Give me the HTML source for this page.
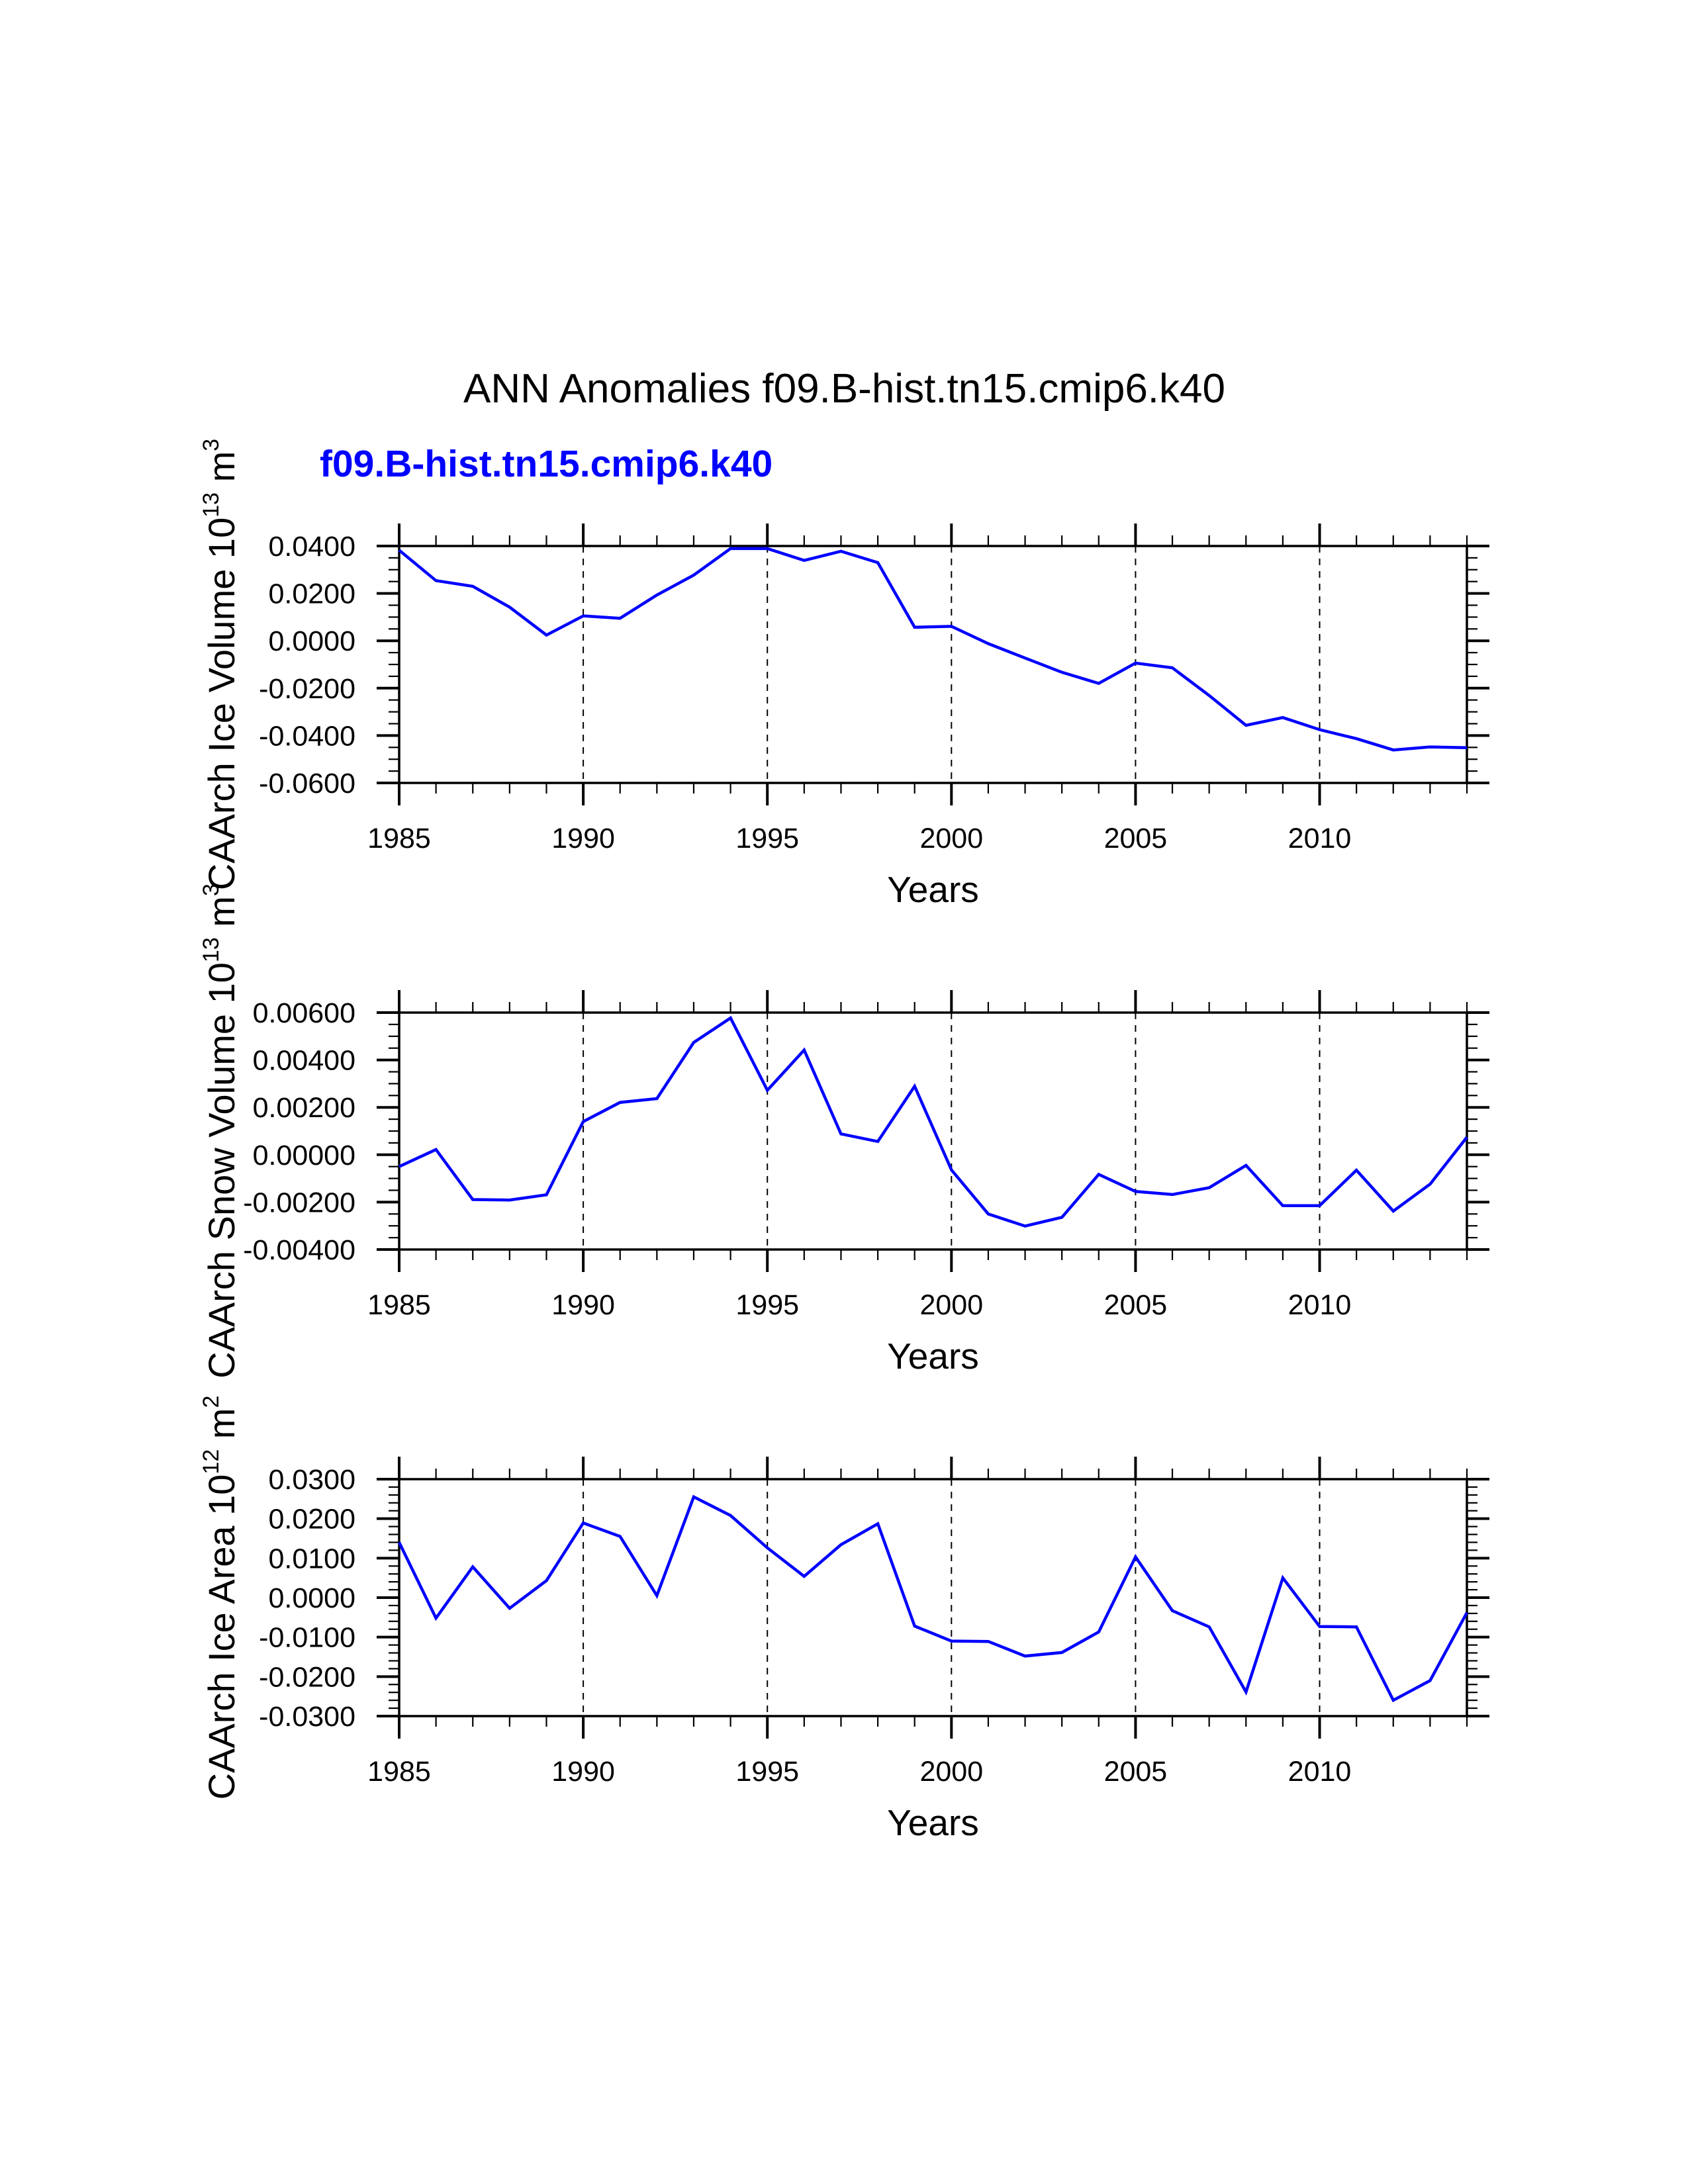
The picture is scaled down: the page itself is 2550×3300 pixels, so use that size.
<!DOCTYPE html>
<html><head><meta charset="utf-8"><style>
html,body{margin:0;padding:0;background:#fff;}
svg{display:block;font-family:"Liberation Sans",Arial,sans-serif;}
</style></head><body>
<svg id="chart" width="2550" height="3300" viewBox="0 0 2550 3300" xmlns="http://www.w3.org/2000/svg">
<rect width="2550" height="3300" fill="#fff"/>
<text x="700" y="608" font-size="62" fill="#000">ANN Anomalies f09.B-hist.tn15.cmip6.k40</text>
<text x="483" y="720" font-size="57" font-weight="bold" fill="#0000ff">f09.B-hist.tn15.cmip6.k40</text>
<g id="plots"></g>
</svg>
<script>
const years = [1985,1986,1987,1988,1989,1990,1991,1992,1993,1994,1995,1996,1997,1998,1999,2000,2001,2002,2003,2004,2005,2006,2007,2008,2009,2010,2011,2012,2013,2014];
const iceVolume = [0.0382,0.0254,0.0230,0.0142,0.0024,0.0105,0.0095,0.0193,0.0277,0.0389,0.0389,0.0339,0.0378,0.0330,0.0057,0.0061,-0.0012,-0.0073,-0.0133,-0.0180,-0.0094,-0.0114,-0.0231,-0.0357,-0.0324,-0.0375,-0.0413,-0.0461,-0.0448,-0.0451];
const snowVolume = [-0.00050,0.00022,-0.00189,-0.00191,-0.00169,0.00140,0.00221,0.00237,0.00474,0.00577,0.00272,0.00442,0.00088,0.00056,0.00289,-0.00064,-0.00250,-0.00301,-0.00264,-0.00083,-0.00155,-0.00168,-0.00139,-0.00045,-0.00215,-0.00215,-0.00065,-0.00238,-0.00124,0.00074];
const iceArea = [0.0140,-0.0052,0.0078,-0.0027,0.0043,0.0189,0.0155,0.0005,0.0255,0.0208,0.0126,0.0054,0.0134,0.0187,-0.0072,-0.0110,-0.0111,-0.0148,-0.0139,-0.0087,0.0103,-0.0033,-0.0074,-0.0239,0.0050,-0.0073,-0.0074,-0.0260,-0.0210,-0.0038];
const xTickLabels = [1985,1990,1995,2000,2005,2010];
const iceVolTicks = ["0.0400","0.0200","0.0000","-0.0200","-0.0400","-0.0600"];
const snowVolTicks = ["0.00600","0.00400","0.00200","0.00000","-0.00200","-0.00400"];
const iceAreaTicks = ["0.0300","0.0200","0.0100","0.0000","-0.0100","-0.0200","-0.0300"];

const NS="http://www.w3.org/2000/svg";
const root=document.getElementById('plots');
const X0=603, X1=2216, PH=358;
function xs(yr){return X0+(yr-years[0])/(years[years.length-1]-years[0])*(X1-X0);}
function mk(tag,attrs,parent){const e=document.createElementNS(NS,tag);for(const k in attrs)e.setAttribute(k,attrs[k]);(parent||root).appendChild(e);return e;}

const panels=[
 {top:825,vals:iceVolume,ticks:iceVolTicks,max:0.04,min:-0.06,major:0.02,minor:0.005,title:["CAArch Ice Volume 10","13"," m","3"],name:"ice-volume"},
 {top:1530,vals:snowVolume,ticks:snowVolTicks,max:0.006,min:-0.004,major:0.002,minor:0.0005,title:["CAArch Snow Volume 10","13"," m","3"],name:"snow-volume"},
 {top:2235,vals:iceArea,ticks:iceAreaTicks,max:0.03,min:-0.03,major:0.01,minor:0.002,title:["CAArch Ice Area 10","12"," m","2"],name:"ice-area"}
];

panels.forEach(p=>{
 const g=mk('g',{});
 
 
 const T=p.top,B=p.top+PH;
 const ys=v=>T+(p.max-v)/(p.max-p.min)*PH;
 xTickLabels.slice(1).forEach(yr=>{
  const l=mk('line',{x1:xs(yr),x2:xs(yr),y1:T,y2:B,stroke:'#000','stroke-width':2,'stroke-dasharray':'10,9'},g);
  
  
 });
 years.forEach(yr=>{
  const maj=(yr%5===0), len=maj?34:16, w=maj?4:2.2, x=xs(yr);
  mk('line',{x1:x,x2:x,y1:T,y2:T-len,stroke:'#000','stroke-width':w},g);
  mk('line',{x1:x,x2:x,y1:B,y2:B+len,stroke:'#000','stroke-width':w},g);
 });
 const n=Math.round((p.max-p.min)/p.minor);
 for(let i=0;i<=n;i++){
  const v=p.max-i*p.minor, y=ys(v);
  const maj=(i%Math.round(p.major/p.minor)===0), len=maj?34:16, w=maj?4:2.2;
  mk('line',{x1:X0,x2:X0-len,y1:y,y2:y,stroke:'#000','stroke-width':w},g);
  mk('line',{x1:X1,x2:X1+len,y1:y,y2:y,stroke:'#000','stroke-width':w},g);
 }
 const fr=mk('rect',{x:X0,y:T,width:X1-X0,height:PH,fill:'none',stroke:'#000','stroke-width':3.5},g);
 
 
 p.ticks.forEach((t,i)=>{
  const tx=mk('text',{x:537,y:ys(p.max-i*p.major)+15,'font-size':43,'text-anchor':'end'},g);
  tx.textContent=t;
  
  
 });
 xTickLabels.forEach(yr=>{
  const tx=mk('text',{x:xs(yr),y:B+98,'font-size':43,'text-anchor':'middle'},g);
  tx.textContent=yr;
  
  
 });
 const xt=mk('text',{x:(X0+X1)/2,y:B+180,'font-size':55,'text-anchor':'middle'},g);
 xt.textContent='Years';
 
 
 const yt=mk('text',{transform:`translate(354,${T+PH/2}) rotate(-90)`,'font-size':56,'text-anchor':'middle'},g);
 
 
 p.title.forEach((s,i)=>{
  const ts=mk('tspan',{},yt);
  if(i%2===1){ts.setAttribute('font-size','34');ts.setAttribute('dy','-24');}
  else if(i>0){ts.setAttribute('dy','24');}
  ts.textContent=s;
 });
 const pts=p.vals.map((v,i)=>xs(years[i]).toFixed(1)+','+ys(v).toFixed(1)).join(' ');
 const pl=mk('polyline',{points:pts,fill:'none',stroke:'#0000ff','stroke-width':4.5,'stroke-linejoin':'miter'},g);
 
 
});
</script>
</body></html>
